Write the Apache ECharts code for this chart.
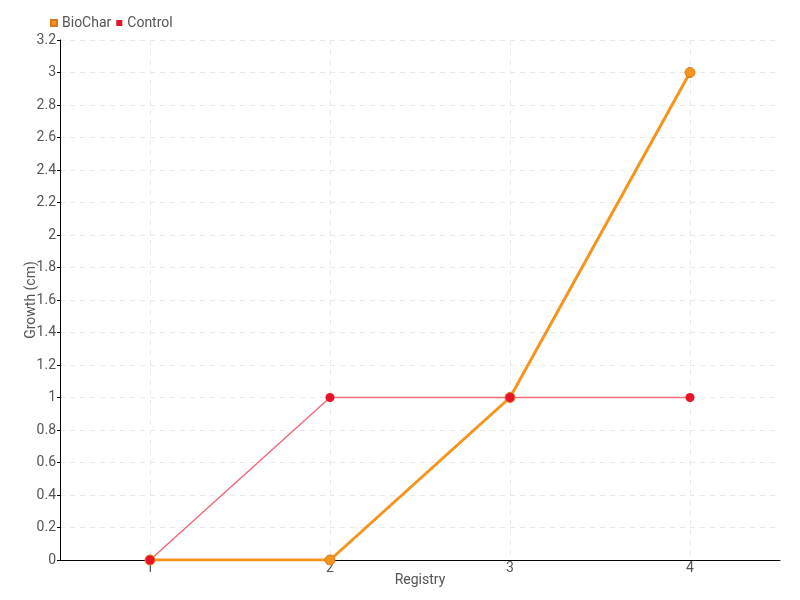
<!DOCTYPE html>
<html><head><meta charset="utf-8">
<script src="https://cdn.jsdelivr.net/npm/echarts@6/dist/echarts.min.js"></script>
<style>html,body{margin:0;padding:0;background:#fff}#c{width:800px;height:600px}</style>
</head><body><div id="c"></div>
<script>
const categories = ['1','2','3','4'];
const bioChar = [0, 0, 1, 3];
const control = [0, 1, 1, 1];
const FONT = "Roboto, sans-serif";
const chart = echarts.init(document.getElementById('c'));
chart.setOption({
  animation: false,
  textStyle: {fontFamily: FONT},
  legend: {
    left: 45, top: 11, itemWidth: 6, itemHeight: 6, itemGap: 5,
    icon: 'rect',
    textStyle: {fontFamily: FONT, fontSize: 14, color: '#555'},
    data: ['BioChar', 'Control']
  },
  grid: {left: 60, right: 20, top: 40, bottom: 40},
  xAxis: {
    type: 'category', data: categories, boundaryGap: true,
    name: 'Registry', nameLocation: 'middle', nameGap: 13, nameMoveOverlap: false,
    nameTextStyle: {fontFamily: FONT, fontSize: 14, color: '#555'},
    axisLine: {lineStyle: {color: '#000'}},
    axisTick: {show: false},
    axisLabel: {fontFamily: FONT, fontSize: 14, color: '#555', margin: 1},
    splitLine: {show: true, alignWithLabel: true, lineStyle: {color: '#e8e8e8', type: [5, 5]}}
  },
  yAxis: {
    type: 'value', min: 0, max: 3.2, interval: 0.2,
    name: 'Growth (cm)', nameLocation: 'middle', nameGap: 22, nameMoveOverlap: false,
    nameTextStyle: {fontFamily: FONT, fontSize: 14, color: '#555'},
    axisLine: {show: true, lineStyle: {color: '#000'}},
    axisTick: {show: true, length: 3, lineStyle: {color: '#000'}},
    axisLabel: {fontFamily: FONT, fontSize: 14, color: '#555', margin: 4,
      formatter: v => String(Math.round(v * 10) / 10)},
    splitLine: {show: true, lineStyle: {color: '#e8e8e8', type: [5, 5]}}
  },
  series: [
    {
      name: 'BioChar', type: 'line', data: bioChar,
      color: '#f7941d',
      lineStyle: {width: 3, color: '#f7941d'},
      symbol: 'circle', symbolSize: 10,
      itemStyle: {color: '#f7941d', borderColor: '#d9771a', borderWidth: 1}
    },
    {
      name: 'Control', type: 'line', data: control,
      color: '#e8132a',
      lineStyle: {width: 1.5, color: '#f26b7a'},
      symbol: 'circle', symbolSize: 9,
      itemStyle: {color: '#e8132a', borderColor: '#e8132a', borderWidth: 0}
    }
  ]
});
</script></body></html>
